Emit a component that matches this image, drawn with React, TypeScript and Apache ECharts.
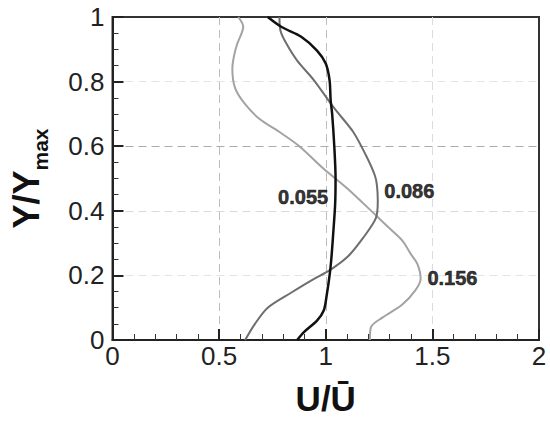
import React, { useEffect, useRef } from "react";
import * as echarts from "echarts";

// U/Ubar (x) versus Y/Ymax (y) for three profiles
const profile055: [number, number][] = [
  [0.866, 0], [0.899, 0.025], [0.959, 0.06], [0.991, 0.092], [1.005, 0.141],
  [1.018, 0.2], [1.026, 0.25], [1.035, 0.33], [1.044, 0.42], [1.046, 0.5],
  [1.04, 0.6], [1.03, 0.7], [1.023, 0.742], [1.018, 0.804], [1.0, 0.856],
  [0.959, 0.896], [0.885, 0.939], [0.793, 0.969], [0.728, 1.0],
];
const profile086: [number, number][] = [
  [0.622, 0], [0.668, 0.05], [0.728, 0.1], [0.839, 0.147], [0.931, 0.184],
  [1.023, 0.218], [1.106, 0.26], [1.175, 0.316], [1.235, 0.377], [1.244, 0.43],
  [1.24, 0.479], [1.23, 0.51], [1.189, 0.571], [1.129, 0.644], [1.037, 0.72],
  [0.945, 0.804], [0.866, 0.865], [0.816, 0.917], [0.788, 0.957], [0.783, 1.0],
];
const profile156: [number, number][] = [
  [1.207, 0], [1.212, 0.04], [1.267, 0.07], [1.359, 0.11], [1.419, 0.153],
  [1.445, 0.19], [1.43, 0.235], [1.4, 0.265], [1.36, 0.307], [1.3, 0.345],
  [1.235, 0.386], [1.1, 0.47], [0.99, 0.53], [0.876, 0.6], [0.783, 0.644],
  [0.69, 0.684], [0.622, 0.73], [0.575, 0.78], [0.562, 0.84], [0.57, 0.88],
  [0.585, 0.917], [0.613, 0.97], [0.59, 1.0],
];

const labelNames = ["0.055", "0.086", "0.156"];
const labelU = [0.894, 1.392, 1.594];
const labelY = [0.442, 0.46, 0.193];

const xMin = 0, xMax = 2, xInterval = 0.5;
const yMin = 0, yMax = 1, yInterval = 0.2;

const FONT = "'Liberation Sans', Arial, Helvetica, sans-serif";
const NONE = "rgba(0,0,0,0)";

export default function App() {
  const ref = useRef<HTMLDivElement>(null);
  useEffect(() => {
    if (!ref.current) return;
    const chart = echarts.init(ref.current, undefined, { renderer: "svg" });
    const lineSeries = (name: string, data: [number, number][], color: string, width: number) => ({
      name,
      type: "line",
      data,
      smooth: 0.3,
      symbol: "none",
      lineStyle: { color, width },
      z: 3,
    });
    chart.setOption({
      animation: false,
      backgroundColor: "#ffffff",
      grid: {
        left: 105, right: 11, top: 17, bottom: 78,
        show: true, borderColor: "#333", borderWidth: 2, backgroundColor: "transparent",
      },
      xAxis: {
        type: "value",
        min: xMin, max: xMax, interval: xInterval,
        name: "U/Ū",
        nameLocation: "middle",
        nameGap: 41,
        nameTextStyle: { fontFamily: FONT, fontSize: 35, fontWeight: "bold", color: "#111", lineHeight: 35 },
        axisLine: { show: true, lineStyle: { color: "#222", width: 2 } },
        axisTick: { show: true, inside: true, length: 11, lineStyle: { color: "#222", width: 2 } },
        minorTick: { show: true, splitNumber: 5, length: 6, lineStyle: { color: "#333", width: 1 } },
        axisLabel: {
          fontFamily: FONT, fontSize: 26, color: "#222", margin: 3,
          formatter: (v: number) => String(v),
        },
        splitLine: {
          show: true,
          lineStyle: { type: [8, 5], width: 1, color: [NONE, "#bdbdbd", "#bdbdbd", "#dcdcdc", NONE] },
        },
      },
      yAxis: {
        type: "value",
        min: yMin, max: yMax, interval: yInterval,
        name: "{a|Y/Y}{b|max}",
        nameLocation: "middle",
        nameRotate: 90,
        nameGap: 62,
        nameTextStyle: {
          rich: {
            a: { fontFamily: FONT, fontSize: 36, fontWeight: "bold", color: "#111", lineHeight: 36 },
            b: { fontFamily: FONT, fontSize: 21, fontWeight: "bold", color: "#111", lineHeight: 49, verticalAlign: "bottom" },
          },
        },
        axisLine: { show: true, lineStyle: { color: "#222", width: 2 } },
        axisTick: { show: true, inside: true, length: 11, lineStyle: { color: "#222", width: 2 } },
        minorTick: { show: true, splitNumber: 4, length: 6, lineStyle: { color: "#333", width: 1 } },
        axisLabel: {
          fontFamily: FONT, fontSize: 26, color: "#222", margin: 8,
          formatter: (v: number) => String(v),
        },
        splitLine: {
          show: true,
          lineStyle: { type: [8, 5], width: 1, color: [NONE, "#e4e4e4", "#dadada", "#ababab", "#e4e4e4", NONE] },
        },
      },
      series: [
        lineSeries("0.156", profile156, "#a3a3a3", 2),
        lineSeries("0.086", profile086, "#6e6e6e", 2),
        lineSeries("0.055", profile055, "#111111", 2.5),
        {
          type: "scatter",
          symbolSize: 0,
          z: 5,
          silent: true,
          data: labelNames.map((n, i) => ({ name: n, value: [labelU[i], labelY[i]] })),
          label: {
            show: true,
            position: "inside",
            formatter: "{b}",
            fontFamily: FONT,
            fontSize: 20,
            fontWeight: "bold",
            color: "#000",
            textBorderWidth: 0.6,
            textBorderColor: "#000",
          },
        },
      ],
    });
    return () => chart.dispose();
  }, []);
  return (
    <div
      ref={ref}
      style={{ position: "absolute", left: 0, top: 0, width: 550, height: 421, background: "#fff" }}
    />
  );
}
